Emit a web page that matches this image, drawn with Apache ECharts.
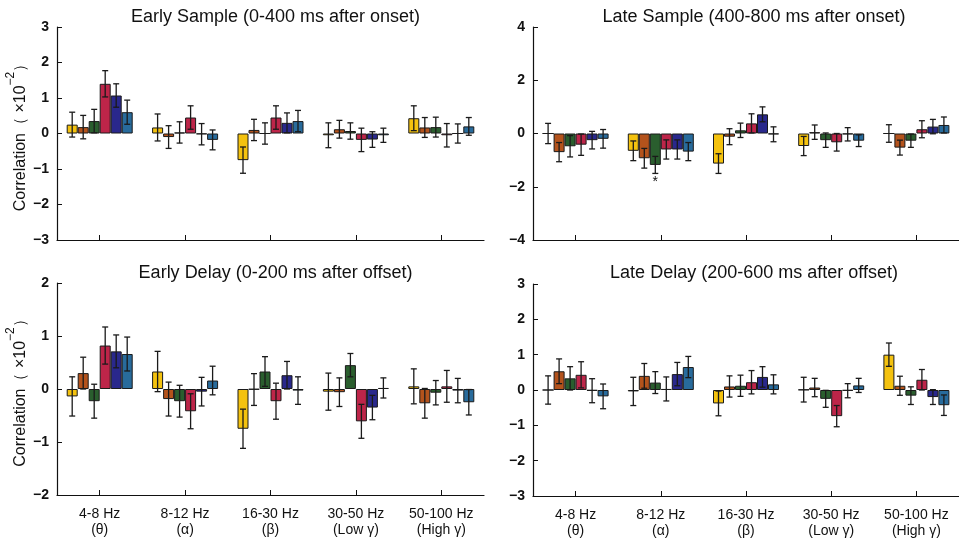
<!DOCTYPE html>
<html>
<head>
<meta charset="utf-8">
<script src="https://cdn.jsdelivr.net/npm/echarts@6/dist/echarts.min.js"></script>
<style>html,body{margin:0;padding:0;background:#fff}#c{width:959px;height:539px}</style>
</head>
<body>
<div id="c"></div>
<script>
// ---- data ----
const bands = ['4-8 Hz\n(θ)', '8-12 Hz\n(α)', '16-30 Hz\n(β)', '30-50 Hz\n(Low γ)', '50-100 Hz\n(High γ)'];
const panelTitles = ['Early Sample (0-400 ms after onset)', 'Late Sample (400-800 ms after onset)',
                     'Early Delay (0-200 ms after offset)', 'Late Delay (200-600 ms after offset)'];
const yTicksRange = [[-3, 3, 1], [-4, 4, 2], [-2, 2, 1], [-3, 3, 1]];

// values per band group (6 bars each), in units of 10^-2
const earlySampleMean = [
  [0.25, 0.18, 0.35, 1.4, 1.07, 0.6],
  [0.17, -0.1, 0.03, 0.45, -0.02, -0.18],
  [-0.75, 0.1, 0.0, 0.45, 0.3, 0.35],
  [-0.05, 0.12, 0.07, -0.18, -0.17, -0.05],
  [0.43, 0.17, 0.18, -0.05, 0.0, 0.2]
];
const earlySampleErr = [
  [0.35, 0.33, 0.33, 0.37, 0.33, 0.34],
  [0.38, 0.32, 0.3, 0.33, 0.3, 0.28],
  [0.37, 0.3, 0.3, 0.33, 0.28, 0.3],
  [0.35, 0.25, 0.23, 0.33, 0.22, 0.2],
  [0.35, 0.28, 0.28, 0.33, 0.27, 0.25]
];
const lateSampleMean = [
  [0.0, -0.7, -0.48, -0.42, -0.25, -0.2],
  [-0.65, -0.93, -1.18, -0.6, -0.6, -0.68],
  [-1.13, -0.12, 0.12, 0.38, 0.72, -0.03],
  [-0.47, 0.05, -0.25, -0.33, -0.03, -0.27],
  [0.0, -0.53, -0.27, 0.16, 0.26, 0.32]
];
const lateSampleErr = [
  [0.38, 0.36, 0.4, 0.4, 0.33, 0.35],
  [0.37, 0.37, 0.32, 0.36, 0.36, 0.34],
  [0.37, 0.3, 0.27, 0.36, 0.28, 0.28],
  [0.36, 0.27, 0.27, 0.33, 0.25, 0.22],
  [0.33, 0.28, 0.25, 0.32, 0.27, 0.3]
];
const earlyDelayMean = [
  [-0.14, 0.3, -0.23, 0.82, 0.71, 0.66],
  [0.33, -0.19, -0.23, -0.42, -0.05, 0.16],
  [-0.75, -0.01, 0.33, -0.23, 0.26, -0.03],
  [-0.05, -0.06, 0.45, -0.61, -0.35, 0.02],
  [0.05, -0.27, -0.07, 0.05, -0.03, -0.25]
];
const earlyDelayErr = [
  [0.37, 0.3, 0.32, 0.35, 0.31, 0.32],
  [0.38, 0.32, 0.3, 0.33, 0.27, 0.27],
  [0.37, 0.3, 0.28, 0.34, 0.26, 0.26],
  [0.35, 0.27, 0.22, 0.32, 0.23, 0.19],
  [0.33, 0.28, 0.23, 0.3, 0.23, 0.24]
];
const lateDelayMean = [
  [0.0, 0.53, 0.33, 0.43, -0.02, -0.18],
  [-0.04, 0.4, 0.21, 0.03, 0.45, 0.65],
  [-0.38, 0.1, 0.12, 0.22, 0.37, 0.16],
  [0.01, 0.07, -0.25, -0.74, -0.02, 0.13],
  [1.0, 0.12, -0.16, 0.29, -0.2, -0.43]
];
const lateDelayErr = [
  [0.4, 0.35, 0.33, 0.37, 0.34, 0.35],
  [0.4, 0.35, 0.31, 0.34, 0.33, 0.3],
  [0.35, 0.3, 0.3, 0.33, 0.29, 0.27],
  [0.35, 0.26, 0.24, 0.3, 0.2, 0.2],
  [0.33, 0.27, 0.25, 0.29, 0.21, 0.29]
];
// significance marks: [panel, band, bar]
const sigMarks = [[1, 1, 2]];

// ---- styles / layout ----
const colors = ['#f4c20f', '#b4531c', '#2a5e2e', '#bd2549', '#29288c', '#286b9c'];
const panelMeans = [earlySampleMean, lateSampleMean, earlyDelayMean, lateDelayMean];
const panelErrs = [earlySampleErr, lateSampleErr, earlyDelayErr, lateDelayErr];
const grids = [
  {left: 57, top: 27, width: 427, height: 213},
  {left: 533, top: 27, width: 432, height: 213},
  {left: 57, top: 283, width: 427, height: 212},
  {left: 533, top: 284, width: 432, height: 213}
];
const BW = 11;
const FONT = '"Liberation Sans", Arial, sans-serif';

const option = {
  animation: false,
  backgroundColor: '#fff',
  title: panelTitles.map((t, p) => ({
    text: t,
    left: grids[p].left + grids[p].width / 2,
    top: p < 2 ? 3 : 259,
    textAlign: 'center',
    textStyle: {fontFamily: FONT, fontSize: 18, fontWeight: 'normal', color: '#111'}
  })),
  grid: grids.map(g => Object.assign({containLabel: false}, g)),
  xAxis: grids.map((g, p) => ({
    type: 'category', gridIndex: p, data: bands,
    axisLine: {onZero: false, lineStyle: {color: '#111', width: 1.2}},
    axisTick: {show: true, inside: true, alignWithLabel: true, length: 5, lineStyle: {color: '#111'}},
    axisLabel: {show: p >= 2, fontFamily: FONT, fontSize: 14, color: '#111', margin: 11, lineHeight: 16, interval: 0},
    splitLine: {show: false}
  })),
  yAxis: grids.map((g, p) => ({
    type: 'value', gridIndex: p,
    min: yTicksRange[p][0], max: yTicksRange[p][1], interval: yTicksRange[p][2],
    name: (p % 2 === 0) ? '{a|Correlation}{p|（ ×10}{s|−2}{p|）}' : '',
    nameLocation: 'middle', nameGap: 28, nameRotate: 90,
    nameTextStyle: {
      fontFamily: FONT, fontSize: 16, color: '#111',
      rich: {
        a: {fontFamily: FONT, fontSize: 16, color: '#111', lineHeight: 24, verticalAlign: 'bottom'},
        p: {fontFamily: FONT, fontSize: 16, color: '#111', lineHeight: 24, verticalAlign: 'bottom'},
        s: {fontFamily: FONT, fontSize: 12, color: '#111', lineHeight: 24, verticalAlign: 'top'}
      }
    },
    axisLine: {show: true, lineStyle: {color: '#111', width: 1.2}},
    axisTick: {show: true, inside: true, length: 5, lineStyle: {color: '#111'}},
    axisLabel: {fontFamily: FONT, fontSize: 14, fontWeight: 'bold', color: '#111', margin: 8,
      formatter: v => String(v).replace('-', '−')},
    splitLine: {show: false}
  })),
  series: []
};

panelMeans.forEach((means, p) => {
  for (let s = 0; s < 6; s++) {
    option.series.push({
      type: 'bar', xAxisIndex: p, yAxisIndex: p,
      data: means.map(g => g[s]),
      barWidth: BW, barGap: '0%',
      itemStyle: {color: colors[s], borderColor: '#1a1a1a', borderWidth: 1}
    });
  }
  const errData = [];
  means.forEach((g, b) => g.forEach((v, s) => {
    const sig = sigMarks.some(m => m[0] === p && m[1] === b && m[2] === s) ? 1 : 0;
    errData.push([b, s, v, panelErrs[p][b][s], sig]);
  }));
  option.series.push({
    type: 'custom', xAxisIndex: p, yAxisIndex: p, z: 10,
    data: errData,
    renderItem: (params, api) => {
      const b = api.value(0), s = api.value(1), v = api.value(2), e = api.value(3), sig = api.value(4);
      const x = api.coord([b, 0])[0] + (s - 2.5) * BW;
      const yt = api.coord([b, v + e])[1];
      const yb = api.coord([b, v - e])[1];
      const st = {stroke: '#1a1a1a', lineWidth: 1.3};
      const cap = 3;
      const children = [
        {type: 'line', shape: {x1: x, y1: yt, x2: x, y2: yb}, style: st},
        {type: 'line', shape: {x1: x - cap, y1: yt, x2: x + cap, y2: yt}, style: st},
        {type: 'line', shape: {x1: x - cap, y1: yb, x2: x + cap, y2: yb}, style: st}
      ];
      if (sig) {
        children.push({type: 'text', style: {text: '*', x: x, y: yb + 2, textAlign: 'center', textVerticalAlign: 'top',
          font: '14px ' + FONT, fill: '#111'}});
      }
      return {type: 'group', children};
    }
  });
});

const chart = echarts.init(document.getElementById('c'), null, {renderer: 'canvas'});
chart.setOption(option);
</script>
</body>
</html>
